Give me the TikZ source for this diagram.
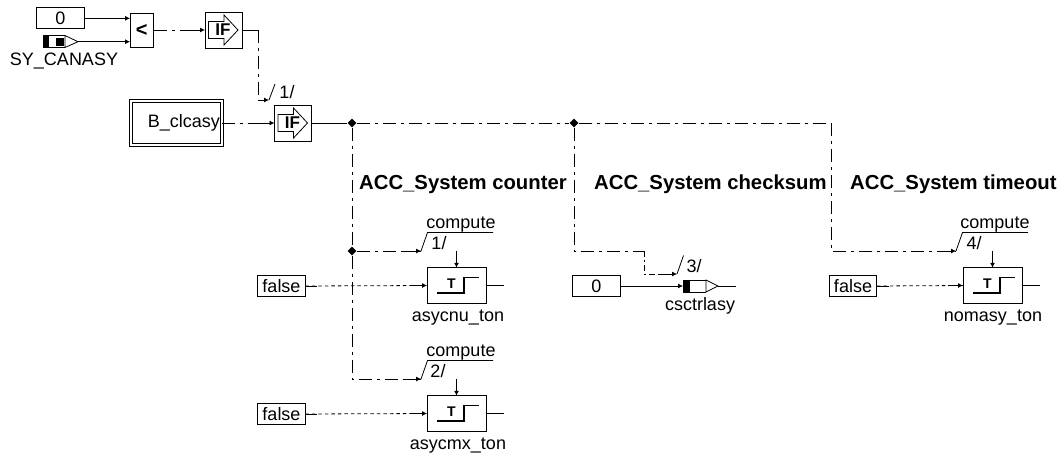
\documentclass[tikz,border=0pt]{standalone}
\usepackage{fontspec}
\setmainfont{Liberation Sans}
\usetikzlibrary{arrows.meta,calc,shapes.geometric}
\tikzset{
    wire/.style={line width=0.8pt},
    tip/.style={wire,-{Latex[length=5pt,width=5pt]}},
    flow/.style={wire,dash pattern=on 13pt off 5pt on 3pt off 5pt},
    dots/.style={wire,dash pattern=on 3.5pt off 3pt},
    box/.style={draw,line width=0.8pt,rectangle,fill=white,inner sep=0pt,outer sep=0pt,minimum width=47.5pt,minimum height=21pt,font=\fontsize{18}{18}\selectfont},
    ifbox/.style={box,minimum width=37pt,minimum height=36pt},
    timer/.style={box,minimum width=59pt,minimum height=35.5pt},
    label/.style={inner sep=0pt,anchor=base,font=\fontsize{18}{18}\selectfont},
    heading/.style={label,anchor=base west,font=\fontsize{20.3}{20.3}\selectfont\bfseries},
    joint/.style={diamond,fill=black,inner sep=0pt,minimum size=9pt}
}
\begin{document}
\begin{tikzpicture}[x=1pt,y=-1pt]
    \useasboundingbox (0,0) rectangle (1061,456);
    % upper left
    \node[box] (zero) at (60.3,18.3) {0};
    \node[box,minimum width=23.5pt,minimum height=34pt,font=\fontsize{20}{20}\selectfont\bfseries] (less) at (141.8,30) {<};
    \node[ifbox] (ifa) at (223.5,30) {};
    \node[ifbox] (ifb) at (293,123) {};
    \node[label] (canasylabel) at (64,65) {SY\_CANASY};
    \draw[fill=black] (43,35.5) rectangle (48,47.5);
    \draw[wire] (48,35.5) -- (65,35.5) (48,47.5) -- (65,47.5);
    \fill (56,37.5) rectangle (64,45.5);
    \draw[wire] (65,35.5) -- (78,41.7) -- (65,47.5) -- cycle;
    \coordinate (canasyout) at (78,41.7);
    \node[box,double,double distance=1.6pt,minimum width=91pt,minimum height=44pt,text width=87pt,align=right] (clcasy) at (176.5,123) {B\_clcasy};
    \draw[tip] (zero.east) -- (zero.east -| less.west);
    \draw[tip] (canasyout) -- (canasyout -| less.west);
    \draw[flow] (less.east) -- (ifa.west);
    \draw[tip] ($(ifa.west)+(-15,0)$) -- (ifa.west);
    \coordinate (fa) at (269,100);
    \coordinate (ca) at (258,30);
    \draw[wire] (ifa.east) -- (ca);
    \draw[flow] (ca) -- (258,100);
    \draw[tip] (258,100) -- (fa);
    \draw[wire] (fa) -- ++(6,-16);
    \node[label] (numa) at (287,98) {1/};
    \draw[flow] (clcasy.east) -- (ifb.west);
    \draw[tip] ($(ifb.west)+(-15,0)$) -- (ifb.west);
    \foreach \b in {ifa,ifb} {
        \begin{scope}[shift={(\b.center)}]
            \draw[wire] (-15,-8.5) -- (0.5,-8.5) -- (0.5,-15) -- (14.5,0) -- (0.5,15) -- (0.5,8.5) -- (-15,8.5) -- cycle;
            \node[box,draw=none,fill=none,minimum size=0pt,font=\fontsize{17}{17}\selectfont\bfseries] at (-0.5,0) {IF};
        \end{scope}
    }
    % main line
    \node[joint] (ja) at (352,123) {};
    \node[joint] (jb) at (574,123) {};
    \node[joint] (jc) at (352,251) {};
    \coordinate (cc) at (831,123);
    \draw[wire] (ifb.east) -- (ja);
    \draw[flow] (ja) -- (jb);
    \draw[flow] (jb) -- (cc);
    \draw[flow] (ja) -- (jc);
    \node[heading] (hcnt) at (359,189) {ACC\_System counter};
    \node[heading] (hchk) at (594,189) {ACC\_System checksum};
    \node[heading] (htim) at (850,189) {ACC\_System timeout};
    % timers
    \node[timer] (asycnu) at (456.5,285.5) {};
    \node[timer] (asycmx) at (456.5,413.5) {};
    \node[timer] (nomasy) at (992.5,285.5) {};
    \node[label] (asycnul) at (458,321) {asycnu\_ton};
    \node[label] (asycmxl) at (458,449) {asycmx\_ton};
    \node[label] (nomasyl) at (993,321) {nomasy\_ton};
    \node[box] (fa1) at (281.5,286) {false};
    \node[box] (fa2) at (281.5,414) {false};
    \node[box] (fa3) at (853,286) {false};
    \draw[dots] (fa1.east) -- (asycnu.west);
    \draw[dots] (fa2.east) -- (asycmx.west);
    \draw[dots] (fa3.east) -- (nomasy.west);
    \foreach \a in {less.east,clcasy.east,fa1.east,fa2.east,fa3.east} {
        \draw[wire] (\a) -- ++(12,0);
    }
    \foreach \b in {asycnu,asycmx,nomasy} {
        \draw[tip] ($(\b.west)+(-15,0)$) -- (\b.west);
        \draw[tip] ($(\b.north)+(0,-17)$) -- (\b.north);
        \draw[wire] (\b.east) -- ++(17.5,0);
        \begin{scope}[shift={(\b.center)}]
            \draw[line width=1.4pt] (-19.5,7.5) -- (7.5,7.5) -- (7.5,-7.8) -- (22.5,-7.8);
            \node[box,draw=none,fill=none,minimum size=0pt,font=\fontsize{14}{14}\selectfont\bfseries] at (-5,-2) {T};
        \end{scope}
    }
    % enables
    \coordinate (f1) at (421,251);
    \coordinate (f2) at (421,379);
    \coordinate (f3) at (677,274);
    \coordinate (f4) at (956,251);
    \coordinate (cb) at (352,379);
    \coordinate (cd) at (574,251);
    \coordinate (ce) at (644,251);
    \coordinate (cf) at (644,274);
    \coordinate (cg) at (831,251);
    \draw[flow] (jc) -- (f1);
    \draw[flow] (jc) -- (cb) -- (f2);
    \draw[flow] (jb) -- (cd) -- (ce);
    \draw[wire,dash pattern=on 6pt off 3pt on 2pt off 3pt] (ce) -- (cf) -- ($(f3)+(-15,0)$);
    \draw[flow] (cc) -- (cg) -- (f4);
    \foreach \f in {f1,f2,f3,f4} {
        \draw[tip] ($(\f)+(-18,0)$) -- (\f);
    }
    \foreach \f in {f1,f2,f4} {
        \draw[wire] (\f) -- ++(6.5,-18.5) -- ++(65.5,0);
    }
    \draw[wire] (f3) -- ++(6.5,-18.5);
    \node[label] (com1) at (461,228) {compute};
    \node[label] (com2) at (461,356) {compute};
    \node[label] (com4) at (995,228) {compute};
    \node[label] (num1) at (439,249) {1/};
    \node[label] (num2) at (438,377) {2/};
    \node[label] (num3) at (694,272) {3/};
    \node[label] (num4) at (974,249) {4/};
    % bottom middle
    \node[box] (zerob) at (596.5,286) {0};
    \coordinate (ptr) at (683,286);
    \draw[tip] (zerob.east) -- (ptr);
    \draw[fill=black] (683,280) rectangle (689,292);
    \draw[wire] (689,280) -- (706,280) (689,292) -- (706,292);
    \draw[wire] (706,280) -- (718,286) -- (706,292) -- cycle;
    \coordinate (ptrout) at (718,286);
    \draw[wire] (ptrout) -- ++(18,0);
    \node[label] (ptrlabel) at (700,310) {csctrlasy};
\end{tikzpicture}
\end{document}
